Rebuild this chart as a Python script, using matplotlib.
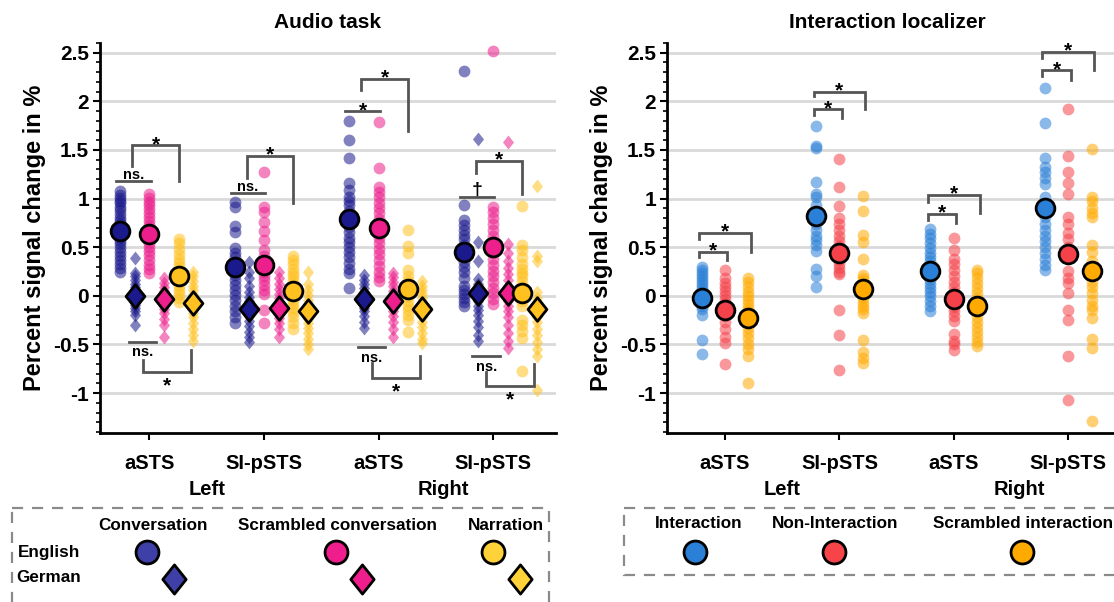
import numpy as np
import matplotlib.pyplot as plt
from matplotlib.path import Path
from matplotlib.patches import Rectangle
from matplotlib.transforms import blended_transform_factory

plt.rcParams['font.family'] = ['Liberation Sans', 'DejaVu Sans']
plt.rcParams['font.weight'] = 'bold'
plt.rcParams['axes.labelweight'] = 'bold'

rois = ['aSTS', 'SI-pSTS', 'aSTS', 'SI-pSTS']
hemis = ['Left', 'Right']

# ---- Audio task: one list per ROI (L aSTS, L SI-pSTS, R aSTS, R SI-pSTS)
conv_en = [
    [1.08, 1.04, 1.01, 0.98, 0.95, 0.91, 0.88, 0.84, 0.8, 0.77, 0.74, 0.7, 0.67, 0.63, 0.6, 0.56, 0.53, 0.49, 0.45, 0.41, 0.37, 0.33, 0.29, 0.25],
    [0.97, 0.91, 0.72, 0.66, 0.49, 0.44, 0.4, 0.35, 0.3, 0.26, 0.21, 0.16, 0.11, 0.06, 0.01, -0.04, -0.1, -0.16, -0.22, -0.28],
    [1.8, 1.6, 1.42, 1.16, 1.09, 1.02, 0.98, 0.93, 0.87, 0.82, 0.76, 0.71, 0.66, 0.6, 0.55, 0.5, 0.45, 0.4, 0.34, 0.28, 0.23, 0.08],
    [2.31, 0.93, 0.78, 0.73, 0.68, 0.63, 0.58, 0.52, 0.46, 0.4, 0.35, 0.3, 0.25, 0.18, 0.1, 0.06, 0.02, -0.02, -0.06, -0.1],
]
conv_de = [
    [0.39, 0.24, 0.2, 0.16, 0.12, 0.09, 0.06, 0.03, 0.0, -0.03, -0.06, -0.09, -0.12, -0.16, -0.2, -0.3],
    [0.35, 0.25, 0.18, 0.1, 0.04, -0.01, -0.05, -0.09, -0.13, -0.17, -0.21, -0.26, -0.31, -0.37, -0.42, -0.47],
    [0.21, 0.16, 0.12, 0.08, 0.04, 0.0, -0.04, -0.08, -0.12, -0.16, -0.21, -0.27, -0.33],
    [1.61, 0.55, 0.36, 0.17, 0.12, 0.08, 0.04, 0.0, -0.05, -0.1, -0.15, -0.2, -0.26, -0.32, -0.4, -0.46],
]
scr_en = [
    [1.05, 1.01, 0.97, 0.93, 0.89, 0.85, 0.81, 0.77, 0.73, 0.7, 0.66, 0.62, 0.58, 0.54, 0.5, 0.46, 0.42, 0.37, 0.32, 0.28, 0.24],
    [1.27, 0.91, 0.86, 0.76, 0.67, 0.57, 0.47, 0.41, 0.37, 0.33, 0.29, 0.25, 0.2, 0.16, 0.11, 0.06, 0.02, -0.15, -0.28],
    [1.79, 1.31, 1.12, 1.07, 1.02, 0.96, 0.9, 0.85, 0.79, 0.74, 0.69, 0.64, 0.59, 0.54, 0.48, 0.43, 0.37, 0.31, 0.25, 0.19, 0.15],
    [2.52, 0.91, 0.86, 0.8, 0.74, 0.68, 0.62, 0.56, 0.5, 0.44, 0.38, 0.32, 0.26, 0.2, 0.14, 0.08, 0.03, -0.03, -0.08],
]
scr_de = [
    [0.18, 0.13, 0.09, 0.05, 0.02, -0.02, -0.06, -0.1, -0.14, -0.18, -0.24, -0.3, -0.42],
    [0.25, 0.18, 0.12, 0.07, 0.02, -0.02, -0.06, -0.1, -0.14, -0.18, -0.23, -0.28, -0.34, -0.42],
    [0.24, 0.19, 0.14, 0.1, 0.05, 0.01, -0.03, -0.07, -0.11, -0.16, -0.21, -0.27, -0.34, -0.42],
    [1.58, 0.53, 0.44, 0.36, 0.29, 0.22, 0.16, 0.1, 0.05, 0.0, -0.05, -0.1, -0.16, -0.22, -0.3, -0.38, -0.46, -0.54],
]
nar_en = [
    [0.58, 0.54, 0.48, 0.43, 0.38, 0.34, 0.3, 0.26, 0.22, 0.18, 0.14, 0.1, 0.06, 0.02, -0.02, -0.06],
    [0.41, 0.37, 0.33, 0.28, 0.24, 0.2, 0.16, 0.12, 0.08, 0.04, 0.0, -0.04, -0.08, -0.12, -0.17, -0.22, -0.28, -0.34],
    [0.68, 0.51, 0.44, 0.27, 0.2, 0.15, 0.1, 0.05, 0.0, -0.05, -0.1, -0.15, -0.2, -0.25, -0.37],
    [0.92, 0.52, 0.47, 0.4, 0.33, 0.28, 0.24, 0.2, 0.15, 0.1, 0.05, 0.0, -0.05, -0.1, -0.25, -0.3, -0.36, -0.43, -0.77],
]
nar_de = [
    [0.25, 0.2, 0.15, 0.1, 0.06, 0.02, -0.02, -0.06, -0.1, -0.14, -0.18, -0.22, -0.28, -0.34, -0.4, -0.46],
    [0.25, 0.12, 0.06, 0.01, -0.04, -0.08, -0.12, -0.16, -0.2, -0.24, -0.28, -0.33, -0.38, -0.44, -0.5, -0.55],
    [0.15, 0.1, 0.06, 0.02, -0.02, -0.06, -0.1, -0.14, -0.18, -0.22, -0.27, -0.32, -0.38, -0.44, -0.48],
    [1.13, 0.41, 0.36, 0.04, -0.02, -0.06, -0.1, -0.14, -0.18, -0.22, -0.27, -0.34, -0.4, -0.47, -0.55, -0.62, -0.97],
]
conv_en_mean = [0.67, 0.30, 0.79, 0.45]
conv_de_mean = [0.0, -0.13, -0.03, 0.03]
scr_en_mean = [0.64, 0.32, 0.70, 0.50]
scr_de_mean = [-0.03, -0.12, -0.05, 0.03]
nar_en_mean = [0.20, 0.05, 0.07, 0.03]
nar_de_mean = [-0.07, -0.16, -0.14, -0.13]

# ---- Interaction localizer
inter = [
    [0.3, 0.27, 0.23, 0.2, 0.17, 0.14, 0.11, 0.08, 0.05, 0.02, -0.01, -0.04, -0.07, -0.1, -0.14, -0.2, -0.45, -0.6],
    [1.75, 1.54, 1.52, 1.17, 1.05, 1.02, 0.93, 0.87, 0.8, 0.74, 0.68, 0.62, 0.57, 0.52, 0.46, 0.28, 0.2, 0.09],
    [0.69, 0.64, 0.59, 0.54, 0.49, 0.44, 0.4, 0.36, 0.32, 0.28, 0.24, 0.2, 0.16, 0.12, 0.08, 0.04, 0.0, -0.05, -0.1, -0.16],
    [2.14, 1.78, 1.42, 1.33, 1.27, 1.21, 1.15, 1.02, 0.96, 0.81, 0.74, 0.68, 0.62, 0.56, 0.5, 0.44, 0.38, 0.32, 0.27],
]
noninter = [
    [0.27, 0.18, 0.13, 0.09, 0.05, 0.01, -0.03, -0.07, -0.11, -0.16, -0.21, -0.27, -0.34, -0.42, -0.48, -0.7],
    [1.41, 1.12, 0.92, 0.8, 0.74, 0.68, 0.62, 0.56, 0.51, 0.46, 0.41, 0.37, 0.33, 0.29, 0.25, 0.22, -0.15, -0.4, -0.76],
    [0.59, 0.47, 0.38, 0.33, 0.27, 0.2, 0.14, 0.09, 0.04, -0.01, -0.06, -0.11, -0.16, -0.21, -0.26, -0.39, -0.46, -0.5, -0.56],
    [1.92, 1.44, 1.27, 1.16, 1.05, 0.81, 0.74, 0.65, 0.58, 0.5, 0.26, 0.18, 0.13, 0.03, -0.15, -0.25, -0.62, -1.07],
]
scrinter = [
    [0.18, 0.14, 0.09, 0.04, 0.0, -0.04, -0.08, -0.12, -0.16, -0.2, -0.24, -0.28, -0.33, -0.38, -0.43, -0.5, -0.55, -0.62, -0.9],
    [1.03, 0.87, 0.63, 0.55, 0.38, 0.21, 0.18, 0.15, 0.12, 0.09, 0.05, 0.02, -0.02, -0.06, -0.1, -0.14, -0.18, -0.45, -0.58, -0.64, -0.69],
    [0.27, 0.23, 0.18, 0.13, 0.08, 0.03, -0.02, -0.07, -0.12, -0.17, -0.22, -0.27, -0.32, -0.37, -0.42, -0.47, -0.52],
    [1.51, 1.02, 0.98, 0.9, 0.85, 0.81, 0.52, 0.45, 0.36, 0.3, 0.21, 0.14, 0.09, 0.03, -0.04, -0.1, -0.15, -0.23, -0.44, -0.54, -1.29],
]
inter_mean = [-0.02, 0.82, 0.26, 0.90]
noninter_mean = [-0.15, 0.44, -0.03, 0.43]
scrinter_mean = [-0.23, 0.07, -0.10, 0.26]

# significance annotations
audio_pair_y = [1.18, 1.06, 1.90, 1.02]
audio_pair_lab = ['ns.', 'ns.', '*', '\u2020']
audio_br = [(1.34, 1.55, 1.18), (1.21, 1.44, 0.96), (2.12, 2.23, 1.70), (1.26, 1.39, 1.05)]
audio_low_y = [-0.47, None, -0.53, -0.62]
audio_low_br = [(-0.66, -0.78, -0.56), None, (-0.69, -0.84, -0.62), (-0.78, -0.93, -0.70)]
loc_small = [(0.40, 0.456, 0.37), (1.86, 1.92, 1.83), (0.775, 0.844, 0.754), (2.256, 2.318, 2.22)]
loc_big = [(0.58, 0.65, 0.456), (2.05, 2.10, 1.92), (0.97, 1.04, 0.85), (2.445, 2.51, 2.32)]

NAVY, PINK, YELL = '#1a1a8c', '#ec1f8c', '#ffc11f'
BLUE, RED, ORNG = '#2a7fd6', '#f5424a', '#ffaa00'
GRAY = '#555555'

diamond = Path([(0, 1), (0.8, 0), (0, -1), (-0.8, 0), (0, 1)],
               [Path.MOVETO, Path.LINETO, Path.LINETO, Path.LINETO, Path.CLOSEPOLY])

fig = plt.figure(figsize=(11.14, 6.02), dpi=100)
axA = fig.add_axes([100 / 1114, 169 / 602, 456 / 1114, 390 / 602])
axB = fig.add_axes([667 / 1114, 169 / 602, 447 / 1114, 390 / 602])


def style(ax, xlim):
    ax.set_xlim(*xlim)
    ax.set_ylim(-1.41, 2.6)
    for s in ['top', 'right']:
        ax.spines[s].set_visible(False)
    for s in ['left', 'bottom']:
        ax.spines[s].set_linewidth(2)
    ax.set_yticks(np.arange(-1, 2.51, 0.5))
    ax.set_yticklabels(['-1', '-0.5', '0', '0.5', '1', '1.5', '2', '2.5'])
    ax.set_yticks(np.arange(-1.4, 2.61, 0.1), minor=True)
    ax.tick_params(axis='y', which='major', length=5, width=1.5, labelsize=15, pad=3)
    ax.tick_params(axis='y', which='minor', length=3, width=1.2)
    ax.set_xticks([1, 2, 3, 4])
    ax.set_xticklabels(rois)
    ax.tick_params(axis='x', length=5, width=1.5, labelsize=14.5, pad=10)
    ax.yaxis.grid(True, which='major', color='#d9d9d9', lw=2)
    ax.set_axisbelow(True)
    ax.set_ylabel('Percent signal change in %', fontsize=17, fontweight='bold', labelpad=5)
    tr = blended_transform_factory(ax.transData, ax.transAxes)
    ax.text(1.5, -0.145, hemis[0], transform=tr, ha='center', va='center', fontsize=14.5)
    ax.text(3.57, -0.145, hemis[1], transform=tr, ha='center', va='center', fontsize=14.5)


def column(ax, x, vals, mean, color, marker, ms, mms, alpha=0.55):
    ax.plot(np.full(len(vals), x), vals, ls='none', marker=marker, ms=ms,
            color=color, alpha=alpha, mec='none', zorder=2)
    ax.plot([x], [mean], ls='none', marker=marker, ms=mms, color=color,
            mec='black', mew=2, zorder=3)


def bracket(ax, x0, x1, yl, ytop, yr, label, up=True):
    ax.plot([x0, x0, x1, x1], [yl, ytop, ytop, yr], color=GRAY, lw=2,
            clip_on=False, zorder=4, solid_joinstyle='miter')
    if up:
        ax.text((x0 + x1) / 2, ytop - 0.05, label, ha='center', va='baseline',
                fontsize=15, clip_on=False, zorder=5)
    else:
        ax.text((x0 + x1) / 2, ytop - 0.2, label, ha='center', va='baseline',
                fontsize=15, clip_on=False, zorder=5)


def hline(ax, x0, x1, y, label, up=True):
    ax.plot([x0, x1], [y, y], color=GRAY, lw=2, clip_on=False, zorder=4)
    if label == '*':
        ax.text((x0 + x1) / 2, y - 0.05, label, ha='center', va='baseline', fontsize=15)
    elif up:
        ax.text((x0 + x1) / 2, y + 0.02, label, ha='center', va='baseline',
                fontsize=14 if label != 'ns.' else 10.5)
    else:
        ax.text((x0 + x1) / 2, y - 0.035, label, ha='center', va='top', fontsize=10.5)


# ---- Audio task panel
style(axA, (0.568, 4.55))
offA = [-0.256, -0.128, 0.0, 0.128, 0.256, 0.384]
seriesA = [(conv_en, conv_en_mean, NAVY, 'o'), (conv_de, conv_de_mean, NAVY, diamond),
           (scr_en, scr_en_mean, PINK, 'o'), (scr_de, scr_de_mean, PINK, diamond),
           (nar_en, nar_en_mean, YELL, 'o'), (nar_de, nar_de_mean, YELL, diamond)]
for g in range(4):
    for k, (vals, means, col, mk) in enumerate(seriesA):
        if mk == 'o':
            column(axA, g + 1 + offA[k], vals[g], means[g], col, 'o', 8.5, 13.5)
        else:
            column(axA, g + 1 + offA[k], vals[g], means[g], col, mk, 10, 17)
    x = g + 1
    hline(axA, x - 0.29, x + 0.01, audio_pair_y[g], audio_pair_lab[g])
    bracket(axA, x - 0.15, x + 0.256, *audio_br[g], '*')
    if audio_low_y[g] is not None:
        hline(axA, x - 0.18, x + 0.06, audio_low_y[g], 'ns.', up=False)
        bracket(axA, x - 0.06, x + 0.36, *audio_low_br[g], '*', up=False)

# ---- Interaction localizer panel
style(axB, (0.493, 4.40))
offB = [-0.205, 0.0, 0.205]
seriesB = [(inter, inter_mean, BLUE), (noninter, noninter_mean, RED),
           (scrinter, scrinter_mean, ORNG)]
for g in range(4):
    for k, (vals, means, col) in enumerate(seriesB):
        column(axB, g + 1 + offB[k], vals[g], means[g], col, 'o', 8.5, 13.5)
    x = g + 1
    bracket(axB, x - 0.225, x + 0.02, *loc_small[g], '*')
    bracket(axB, x - 0.225, x + 0.225, *loc_big[g], '*')

fig.text(328 / 1114, 1 - 22 / 602, 'Audio task', ha='center', va='center', fontsize=15)
fig.text(887 / 1114, 1 - 22 / 602, 'Interaction localizer', ha='center', va='center', fontsize=15)

# ---- legends (drawn in a pixel-coordinate overlay)
ov = fig.add_axes([0, 0, 1, 1], zorder=-1)
ov.set_xlim(0, 1114)
ov.set_ylim(602, 0)
ov.axis('off')
ov.add_patch(Rectangle((12, 508), 537, 110, fill=False, ec='#8a8a8a', lw=1.6,
                       ls=(0, (5, 4)), clip_on=False))
ov.add_patch(Rectangle((624, 508), 520, 67, fill=False, ec='#8a8a8a', lw=1.6,
                       ls=(0, (5, 4)), clip_on=False))
for txt, xc in [('Conversation', 153), ('Scrambled conversation', 337), ('Narration', 506)]:
    ov.text(xc, 525, txt, ha='center', va='center', fontsize=12.3)
ov.text(18, 552, 'English', ha='left', va='center', fontsize=12.3)
ov.text(16, 578, 'German', ha='left', va='center', fontsize=12.3)
for col, xc, xd in [('#3f3fa8', 147, 174), ('#f01d8c', 336, 362), ('#ffd23a', 493, 520)]:
    ov.plot([xc], [552], 'o', ms=16.5, color=col, mec='black', mew=2)
    ov.plot([xd], [579], marker=diamond, ms=21, color=col, mec='black', mew=2)
for txt, xc, col in [('Interaction', 699, BLUE), ('Non-Interaction', 835, '#f74448'),
                     ('Scrambled interaction', 1023, ORNG)]:
    ov.text(xc, 524, txt, ha='center', va='center', fontsize=12.3)
    ov.plot([xc - 4 if xc < 800 else xc - 1], [552], 'o', ms=16.5, color=col, mec='black', mew=2)

fig.savefig('out.png', dpi=100)
